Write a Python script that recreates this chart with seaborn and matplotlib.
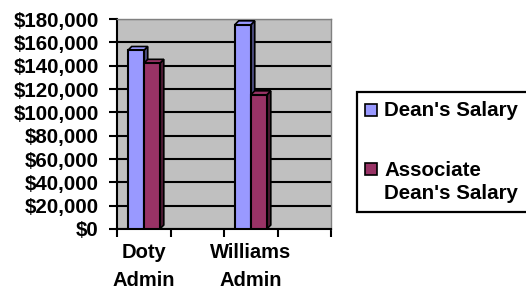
import matplotlib
matplotlib.use("Agg")
import matplotlib.pyplot as plt
import seaborn as sns
import pandas as pd
from matplotlib.patches import Polygon, Rectangle
from matplotlib.ticker import FuncFormatter, FixedLocator

# ---- data ----
categories = ["Doty\nAdmin", " ", "Williams\nAdmin", "  "]
tick_labels = ["Doty\nAdmin", "", "Williams\nAdmin", ""]
series_names = ["Dean's Salary", "Associate\nDean's Salary"]
dean_salary = [153000, None, 175000, None]
assoc_salary = [142000, None, 115000, None]
colors = ["#9999FF", "#993366"]
side_colors = ["#4D4D80", "#4D1A33"]

rows = []
for c, d, a in zip(categories, dean_salary, assoc_salary):
    if d is not None:
        rows.append({"cat": c, "series": series_names[0], "value": d})
    if a is not None:
        rows.append({"cat": c, "series": series_names[1], "value": a})
df = pd.DataFrame(rows)

sns.set_theme(style="white")
plt.rcParams["font.family"] = ["Liberation Sans", "DejaVu Sans"]
plt.rcParams["font.weight"] = "bold"
plt.rcParams["text.color"] = "black"
plt.rcParams["xtick.labelcolor"] = "black"
plt.rcParams["ytick.labelcolor"] = "black"

fig = plt.figure(figsize=(5.26, 2.91), dpi=100)
W, H = 526, 291
ax = fig.add_axes([117 / W, (H - 229) / H, (331 - 117) / W, 210 / H])
ax.set_facecolor("#C0C0C0")

sns.barplot(data=df, x="cat", y="value", hue="series", order=categories,
            hue_order=series_names, palette=colors, width=0.6, gap=0,
            edgecolor="black", linewidth=1.5, saturation=1, legend=False,
            ax=ax, zorder=3)

ax.set_xlim(-0.5, 3.5)
ax.set_ylim(0, 180000)
ax.set_yticks(range(0, 180001, 20000))
ax.yaxis.set_major_formatter(FuncFormatter(lambda v, p: f"${int(v):,}"))
ax.grid(axis="y", color="black", linewidth=1.5, zorder=1)
ax.set_axisbelow(True)

# x ticks: labels at category centres, tick marks at slot boundaries
ax.set_xticks(range(len(categories)))
ax.set_xticklabels(tick_labels, linespacing=1.6)
ax.xaxis.set_minor_locator(FixedLocator([-0.5, 0.5, 1.5, 2.5, 3.5]))
ax.tick_params(axis="x", which="major", length=0, pad=10, labelsize=14.5,
               labelcolor="black")
ax.tick_params(axis="x", which="minor", length=6, width=1.5, color="black",
               direction="out", bottom=True)
ax.tick_params(axis="y", length=6, width=1.5, color="black", direction="out",
               left=True, pad=7, labelsize=14.8, labelcolor="black")
for lab in ax.get_xticklabels() + ax.get_yticklabels():
    lab.set_fontweight("bold")
ax.set_xlabel("")
ax.set_ylabel("")

for s in ["left", "bottom"]:
    ax.spines[s].set_color("black")
    ax.spines[s].set_linewidth(1.5)
for s in ["top", "right"]:
    ax.spines[s].set_color("#808080")
    ax.spines[s].set_linewidth(1.0)

# 3D look derived from the seaborn bar geometry
dx = 4 * 4.0 / 214.0
dy = 4 * 180000 / 210.0
bars = [p for p in ax.patches if p.get_height() > 0]
for p in bars:
    x, w, h = p.get_x(), p.get_width(), p.get_height()
    fc = p.get_facecolor()
    idx = 0 if fc[2] > 0.9 else 1
    side = Polygon([(x + w, 0), (x + w + dx, dy), (x + w + dx, h + dy), (x + w, h)],
                   closed=True, facecolor=side_colors[idx], edgecolor="black",
                   linewidth=1.2, zorder=2.9)
    top = Polygon([(x, h), (x + dx, h + dy), (x + w + dx, h + dy), (x + w, h)],
                  closed=True, facecolor=colors[idx], edgecolor="black",
                  linewidth=1.2, zorder=2.9)
    ax.add_patch(side)
    ax.add_patch(top)
    for poly in (side, top):
        poly.set_clip_on(False)

# ---- legend (drawn in pixel-based figure coordinates) ----
def fx(px):
    return px / W

def fy(py):
    return 1 - py / H

frame = Rectangle((fx(357), fy(212)), fx(580) - fx(357), fy(92) - fy(212),
                  transform=fig.transFigure, facecolor="white",
                  edgecolor="black", linewidth=1.6, clip_on=True)
fig.patches.append(frame)
entry_y = [110, 169]
for i, (name, yc) in enumerate(zip(series_names, entry_y)):
    sq = Rectangle((fx(365), fy(yc + 6)), fx(377) - fx(365), fy(yc - 6) - fy(yc + 6),
                   transform=fig.transFigure, facecolor=colors[i],
                   edgecolor="black", linewidth=1.2)
    fig.patches.append(sq)
    if "\n" in name:
        fig.text(fx(384), fy(yc - 8), name, ha="left", va="top", fontsize=14.8,
                 fontweight="bold", linespacing=1.25, color="black")
    else:
        fig.text(fx(384), fy(yc), name, ha="left", va="center", fontsize=14.8,
                 fontweight="bold", color="black")

fig.savefig("out.png", dpi=100)
